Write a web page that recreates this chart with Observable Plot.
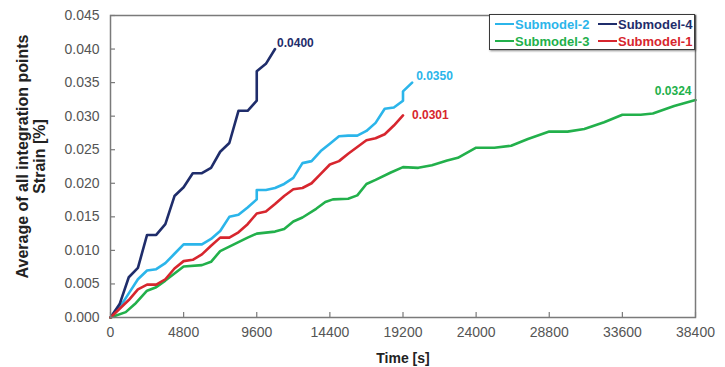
<!DOCTYPE html>
<html><head><meta charset="utf-8">
<script src="https://cdn.jsdelivr.net/npm/d3@7"></script>
<script src="https://cdn.jsdelivr.net/npm/@observablehq/plot@0.6"></script>
<style>
body{margin:0;background:#fff;}
#wrap{position:relative;width:725px;height:367px;font-family:"Liberation Sans",Arial,sans-serif;overflow:hidden;}
.legend{position:absolute;left:489px;top:14px;width:206px;height:36px;border:1.5px solid #3a3a3a;box-sizing:border-box;box-shadow:1px 1px 2px rgba(0,0,0,0.45);background:#fff;font-weight:bold;font-size:13px;}
.item{position:absolute;display:flex;align-items:center;height:15px;line-height:15px;}
.sw{display:inline-block;width:19px;height:2.5px;margin-right:1px;}
</style></head><body><div id="wrap"></div>
<script>
// ---- data ----
const xTicks = [0, 4800, 9600, 14400, 19200, 24000, 28800, 33600, 38400];
const yTicks = [0, 0.005, 0.010, 0.015, 0.020, 0.025, 0.030, 0.035, 0.040, 0.045];

const names = ["Submodel-2", "Submodel-4", "Submodel-3", "Submodel-1"];
const colors = ["#2bb5ea", "#1f2d6b", "#22b04b", "#d7262e"];

const time2 = [0,600,1200,1800,2400,3000,3600,4200,4800,5400,6000,6600,7200,7800,8400,9000,9600,9600,10200,10800,11400,12000,12600,13200,13800,14400,15000,15600,16200,16800,17400,18000,18600,19200,19200,19800];
const strain2 = [0,0.0015,0.0036,0.0057,0.0070,0.0072,0.0081,0.0095,0.0109,0.0109,0.0109,0.0117,0.0129,0.0150,0.0153,0.0164,0.0176,0.0190,0.0190,0.0193,0.0199,0.0208,0.0230,0.0233,0.0248,0.0259,0.0270,0.0271,0.0271,0.0278,0.0290,0.0311,0.0313,0.0323,0.0337,0.0350];

const time4 = [0,600,1200,1800,2400,3000,3600,4200,4800,5400,6000,6600,7200,7800,8400,9000,9600,9600,10200,10800];
const strain4 = [0,0.0020,0.0060,0.0074,0.0123,0.0123,0.0139,0.0181,0.0194,0.0215,0.0215,0.0223,0.0247,0.0260,0.0308,0.0308,0.0323,0.0367,0.0378,0.0400];

const time3 = [0,1000,1600,2400,3000,3600,4800,6000,6600,7200,8100,9000,9600,10800,11400,12000,12600,13500,14100,14600,15600,16200,16800,17400,18400,19200,20200,21100,22100,22800,24000,25200,26300,27400,28800,30000,31100,32400,33600,34800,35600,37000,38400];
const strain3 = [0,0.0008,0.0020,0.0040,0.0045,0.0055,0.0076,0.0078,0.0083,0.0099,0.0109,0.0119,0.0125,0.0128,0.0132,0.0143,0.0149,0.0162,0.0172,0.0176,0.0177,0.0182,0.0199,0.0205,0.0216,0.0224,0.0223,0.0227,0.0234,0.0238,0.0253,0.0253,0.0256,0.0266,0.0277,0.0277,0.0281,0.0291,0.0302,0.0302,0.0304,0.0315,0.0324];

const time1 = [0,600,1200,1800,2400,3000,3600,4200,4800,5400,6000,6600,7200,7800,8400,9000,9600,10200,10800,11400,12000,12600,13200,13800,14400,15000,15600,16200,16800,17400,18000,18600,19200];
const strain1 = [0,0.0013,0.0026,0.0042,0.0049,0.0049,0.0057,0.0073,0.0084,0.0086,0.0094,0.0107,0.0119,0.0119,0.0127,0.0139,0.0155,0.0158,0.0169,0.0181,0.0191,0.0193,0.0200,0.0214,0.0228,0.0233,0.0244,0.0254,0.0264,0.0267,0.0273,0.0286,0.0301];

const yTitle = ["Average of all integration points", "Strain [%]"];
const xTitle = "Time [s]";

// ---- build ----
const series = [
  {name: names[0], color: colors[0], t: time2, v: strain2, dx: 4, dy: -6, anchor: "start"},
  {name: names[1], color: colors[1], t: time4, v: strain4, dx: 2, dy: -6, anchor: "start"},
  {name: names[2], color: colors[2], t: time3, v: strain3, dx: -4, dy: -9, anchor: "end"},
  {name: names[3], color: colors[3], t: time1, v: strain1, dx: 9, dy: 0, anchor: "start"}
].map(s => ({...s, rows: s.t.map((t, i) => ({t, v: s.v[i]}))}));

const marks = [];
for (const s of series) {
  marks.push(Plot.line(s.rows, {x: "t", y: "v", stroke: s.color, strokeWidth: 2.6, strokeLinejoin: "round", strokeLinecap: "round"}));
}
for (const s of series) {
  const last = s.rows[s.rows.length - 1];
  marks.push(Plot.text([last], {x: "t", y: "v", text: d => d3.format(".4f")(d.v), fill: s.color, fontWeight: "bold", fontSize: 12, textAnchor: s.anchor, dx: s.dx, dy: s.dy}));
}
marks.push(
  Plot.frame({stroke: "#7a7a7a", strokeWidth: 1.5}),
  Plot.axisY({ticks: yTicks, tickSize: 5, dx: 5, text: null, label: null, stroke: "#7a7a7a", strokeWidth: 1.2}),
  Plot.axisY({ticks: yTicks, tickSize: 0, tickPadding: 11, tickFormat: d3.format(".3f"), label: null, fill: "#555"}),
  Plot.axisX({ticks: xTicks, tickSize: 5, dy: -5, text: null, label: null, stroke: "#7a7a7a", strokeWidth: 1.2}),
  Plot.axisX({ticks: xTicks, tickSize: 0, tickPadding: 10, tickFormat: d => String(d), label: null, fill: "#555"}),
  Plot.text([xTitle], {text: d => d, frameAnchor: "bottom", dy: 41, textAnchor: "middle", lineAnchor: "middle", fontWeight: "bold", fontSize: 14, fill: "#222"}),
  Plot.text([yTitle[0]], {text: d => d, frameAnchor: "left", rotate: -90, dx: -88, dy: -10, textAnchor: "middle", lineAnchor: "middle", fontWeight: "bold", fontSize: 16, fill: "#222"}),
  Plot.text([yTitle[1]], {text: d => d, frameAnchor: "left", rotate: -90, dx: -71, dy: -10, textAnchor: "middle", lineAnchor: "middle", fontWeight: "bold", fontSize: 16, fill: "#222"})
);

const chart = Plot.plot({
  width: 725, height: 367,
  marginLeft: 110, marginRight: 30, marginTop: 15, marginBottom: 50,
  x: {domain: [0, 38400]},
  y: {domain: [0, 0.045]},
  style: {fontFamily: "'Liberation Sans', Arial, sans-serif", fontSize: "14px", background: "#fff", overflow: "visible"},
  marks
});
const wrap = document.getElementById("wrap");
wrap.appendChild(chart);

// legend (HTML, overlaid on the plot's top-right corner)
const legend = document.createElement("div");
legend.className = "legend";
const layout = [[0, 5, 1.5], [1, 108, 1.5], [2, 5, 18.5], [3, 108, 18.5]];
for (const [i, left, top] of layout) {
  const it = document.createElement("div");
  it.className = "item";
  it.style.left = left + "px"; it.style.top = top + "px"; it.style.color = colors[i];
  it.innerHTML = `<span class="sw" style="background:${colors[i]}"></span>${names[i]}`;
  legend.appendChild(it);
}
wrap.appendChild(legend);
</script></body></html>
